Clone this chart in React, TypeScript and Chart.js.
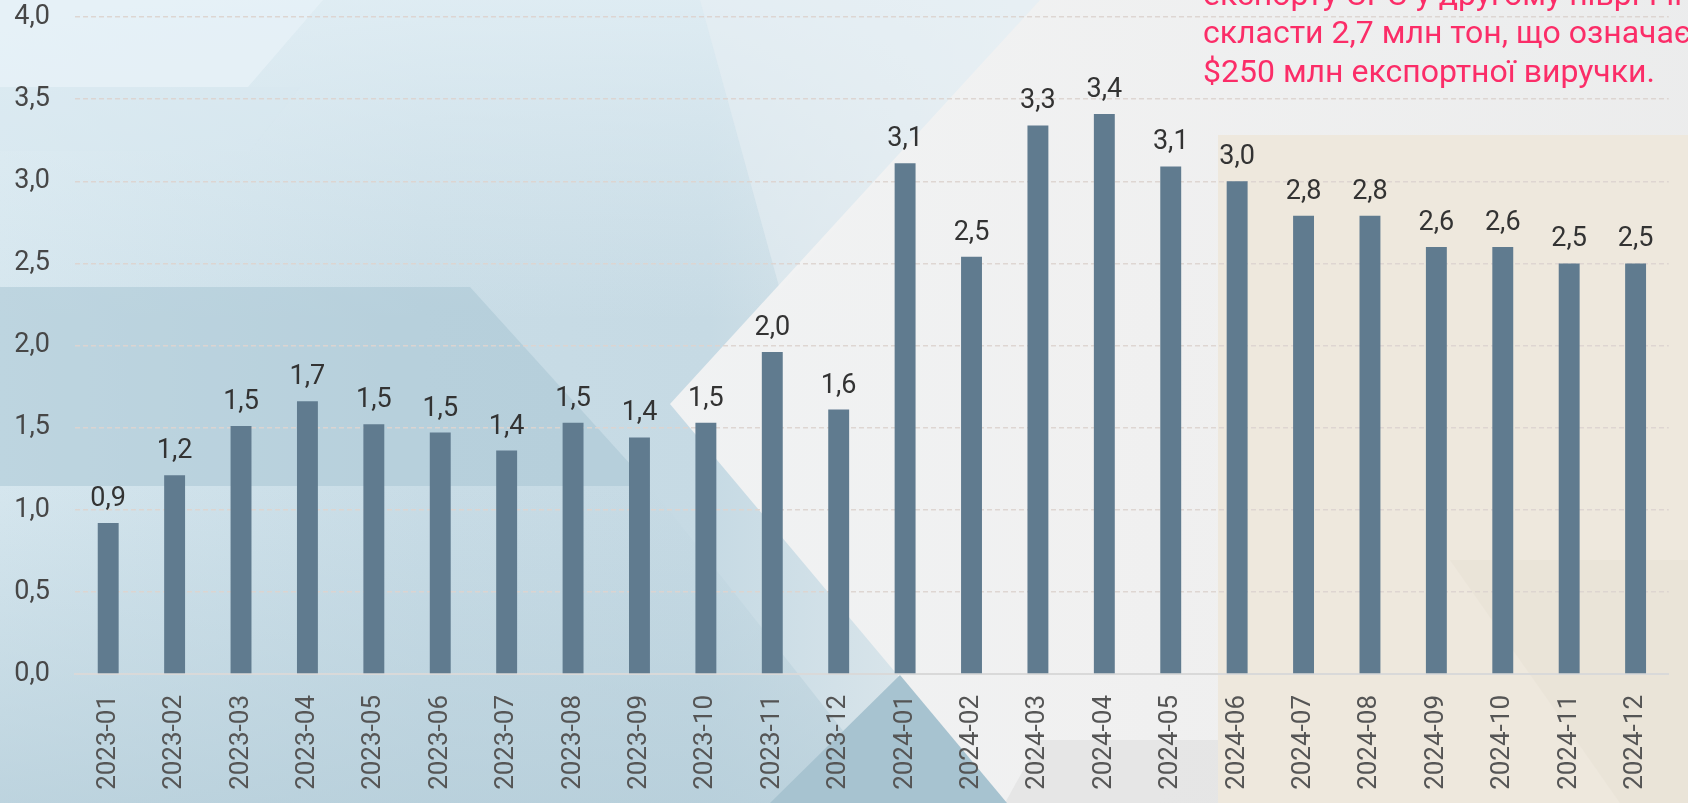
import React, { useEffect, useRef } from "react";
import { Chart, registerables } from "chart.js";

Chart.register(...registerables);

const categories = [
  "2023-01", "2023-02", "2023-03", "2023-04", "2023-05", "2023-06",
  "2023-07", "2023-08", "2023-09", "2023-10", "2023-11", "2023-12",
  "2024-01", "2024-02", "2024-03", "2024-04", "2024-05", "2024-06",
  "2024-07", "2024-08", "2024-09", "2024-10", "2024-11", "2024-12",
];

const exportValues = [
  0.92, 1.21, 1.51, 1.66, 1.52, 1.47, 1.36, 1.53, 1.44, 1.53, 1.96, 1.61,
  3.11, 2.54, 3.34, 3.41, 3.09, 3.0, 2.79, 2.79, 2.6, 2.6, 2.5, 2.5,
];

const noteLines = [
  "експорту СРС у другому півріччі може",
  "скласти 2,7 млн тон, що означає",
  "$250 млн експортної виручки.",
];

const fmt = (v: number) => v.toFixed(1).replace(".", ",");

const FONT = "Roboto";

const dataLabelPlugin = {
  id: "dataLabels",
  afterDatasetsDraw(chart: any) {
    const ctx = chart.ctx;
    const meta = chart.getDatasetMeta(0);
    const data = chart.data.datasets[0].data as number[];
    ctx.save();
    ctx.font = `27px ${FONT}`;
    ctx.fillStyle = "#333333";
    ctx.textAlign = "center";
    ctx.textBaseline = "alphabetic";
    meta.data.forEach((bar: any, i: number) => {
      ctx.fillText(fmt(data[i]), bar.x, bar.y - 17);
    });
    ctx.restore();
  },
};

function Background() {
  return (
    <svg
      width={1688}
      height={803}
      viewBox="0 0 1688 803"
      style={{ position: "absolute", left: 0, top: 0 }}
    >
      <defs>
        <linearGradient id="base" x1="0" y1="0" x2="1" y2="0">
          <stop offset="0" stopColor="#d5e6ee" />
          <stop offset="0.25" stopColor="#c8dce6" />
          <stop offset="0.42" stopColor="#c6dae4" />
          <stop offset="0.55" stopColor="#dbe6eb" />
          <stop offset="0.65" stopColor="#eeeeee" />
          <stop offset="1" stopColor="#efefee" />
        </linearGradient>
        <linearGradient id="topfade" x1="0" y1="0" x2="0" y2="1">
          <stop offset="0" stopColor="#e4f0f6" stopOpacity="0.8" />
          <stop offset="0.4" stopColor="#e4f0f6" stopOpacity="0" />
        </linearGradient>
        <linearGradient id="chev" x1="0" y1="0" x2="1" y2="0">
          <stop offset="0" stopColor="#f4f4f4" />
          <stop offset="1" stopColor="#ececec" />
        </linearGradient>
        <linearGradient id="botblue" x1="0" y1="0" x2="0" y2="1">
          <stop offset="0" stopColor="#b3ccd8" stopOpacity="0" />
          <stop offset="1" stopColor="#b3ccd8" stopOpacity="0.7" />
        </linearGradient>
      </defs>
      <rect x={0} y={0} width={1688} height={803} fill="url(#base)" />
      <rect x={0} y={0} width={1688} height={803} fill="url(#topfade)" />
      <polygon points="0,0 323,0 248,87 0,87" fill="#e6f1f7" opacity={0.85} />
      <polygon points="0,87 300,87 250,151 0,151" fill="#d8e7ef" opacity={0.5} />
      <polygon points="0,287 470,287 650,486 0,486" fill="#a6c4d2" opacity={0.5} />
      <polygon points="0,486 650,486 900,803 0,803" fill="url(#botblue)" />
      <polygon points="700,0 1040,0 780,290" fill="#e9f0f3" opacity={0.5} />
      <polygon points="670,404 1040,0 1688,0 1688,803 1005,803" fill="url(#chev)" opacity={0.92} />
      <polygon points="1005,803 1040,740 1218,740 1218,803" fill="#dcdcdc" opacity={0.5} />
      <polygon points="900,675 1007,803 770,803" fill="#a7c3d0" />
      <rect x={1218} y={135} width={470} height={668} fill="#eee7db" opacity={0.92} />
      <polygon points="1450,560 1688,560 1688,803 1620,803" fill="#e2dacd" opacity={0.3} />
    </svg>
  );
}

export default function App() {
  const canvasRef = useRef<HTMLCanvasElement | null>(null);

  useEffect(() => {
    let chart: Chart | null = null;
    let cancelled = false;
    const make = () => {
      if (cancelled || !canvasRef.current) return;
      chart = new Chart(canvasRef.current, {
        type: "bar",
        data: {
          labels: categories,
          datasets: [
            {
              data: exportValues,
              backgroundColor: "#607b8f",
              barPercentage: 0.315,
              categoryPercentage: 1.0,
            },
          ],
        },
        options: {
          animation: false,
          responsive: false,
          layout: { padding: { top: 17, right: 10, left: 0, bottom: 0 } },
          plugins: {
            legend: { display: false },
            tooltip: { enabled: false },
          },
          scales: {
            x: {
              grid: { display: false, drawTicks: false },
              border: { display: true, color: "#d9d9d9", width: 2 },
              ticks: {
                maxRotation: 90,
                minRotation: 90,
                padding: 21,
                color: "#555555",
                font: { family: FONT, size: 26 },
              },
              afterFit: (s: any) => {
                s.height = 129;
              },
            },
            y: {
              min: 0,
              max: 4,
              grid: {
                drawTicks: false,
                lineWidth: 1.5,
                color: (c: any) =>
                  c.tick && c.tick.value === 0 ? "rgba(0,0,0,0)" : "rgba(220,212,208,0.95)",
              },
              border: { display: false, dash: [5, 3] },
              ticks: {
                stepSize: 0.5,
                padding: 25,
                color: "#474747",
                font: { family: FONT, size: 27 },
                callback: (v: any) => fmt(Number(v)),
              },
              afterFit: (s: any) => {
                s.width = 75;
                s.paddingTop = 0;
                s.paddingBottom = 0;
              },
            },
          },
        },
        plugins: [dataLabelPlugin],
      });
    };
    const fontsReady = (document as any).fonts
      ? Promise.all([
          (document as any).fonts.load(`26px ${FONT}`),
          (document as any).fonts.load(`32px ${FONT}`),
        ]).catch(() => null)
      : Promise.resolve(null);
    fontsReady.then(make);
    return () => {
      cancelled = true;
      if (chart) chart.destroy();
    };
  }, []);

  return (
    <div
      style={{
        position: "fixed",
        left: 0,
        top: 0,
        width: 1688,
        height: 803,
        overflow: "hidden",
      }}
    >
      <Background />
      <canvas
        ref={canvasRef}
        width={1688}
        height={803}
        style={{ position: "absolute", left: 0, top: 0, width: 1688, height: 803 }}
      />
      <div
        style={{
          position: "absolute",
          left: 1203,
          top: -25,
          fontFamily: FONT,
          fontSize: 32,
          lineHeight: "38.4px",
          color: "#fb2d68",
          whiteSpace: "nowrap",
        }}
      >
        {noteLines.map((l, i) => (
          <div key={i}>{l}</div>
        ))}
      </div>
    </div>
  );
}
